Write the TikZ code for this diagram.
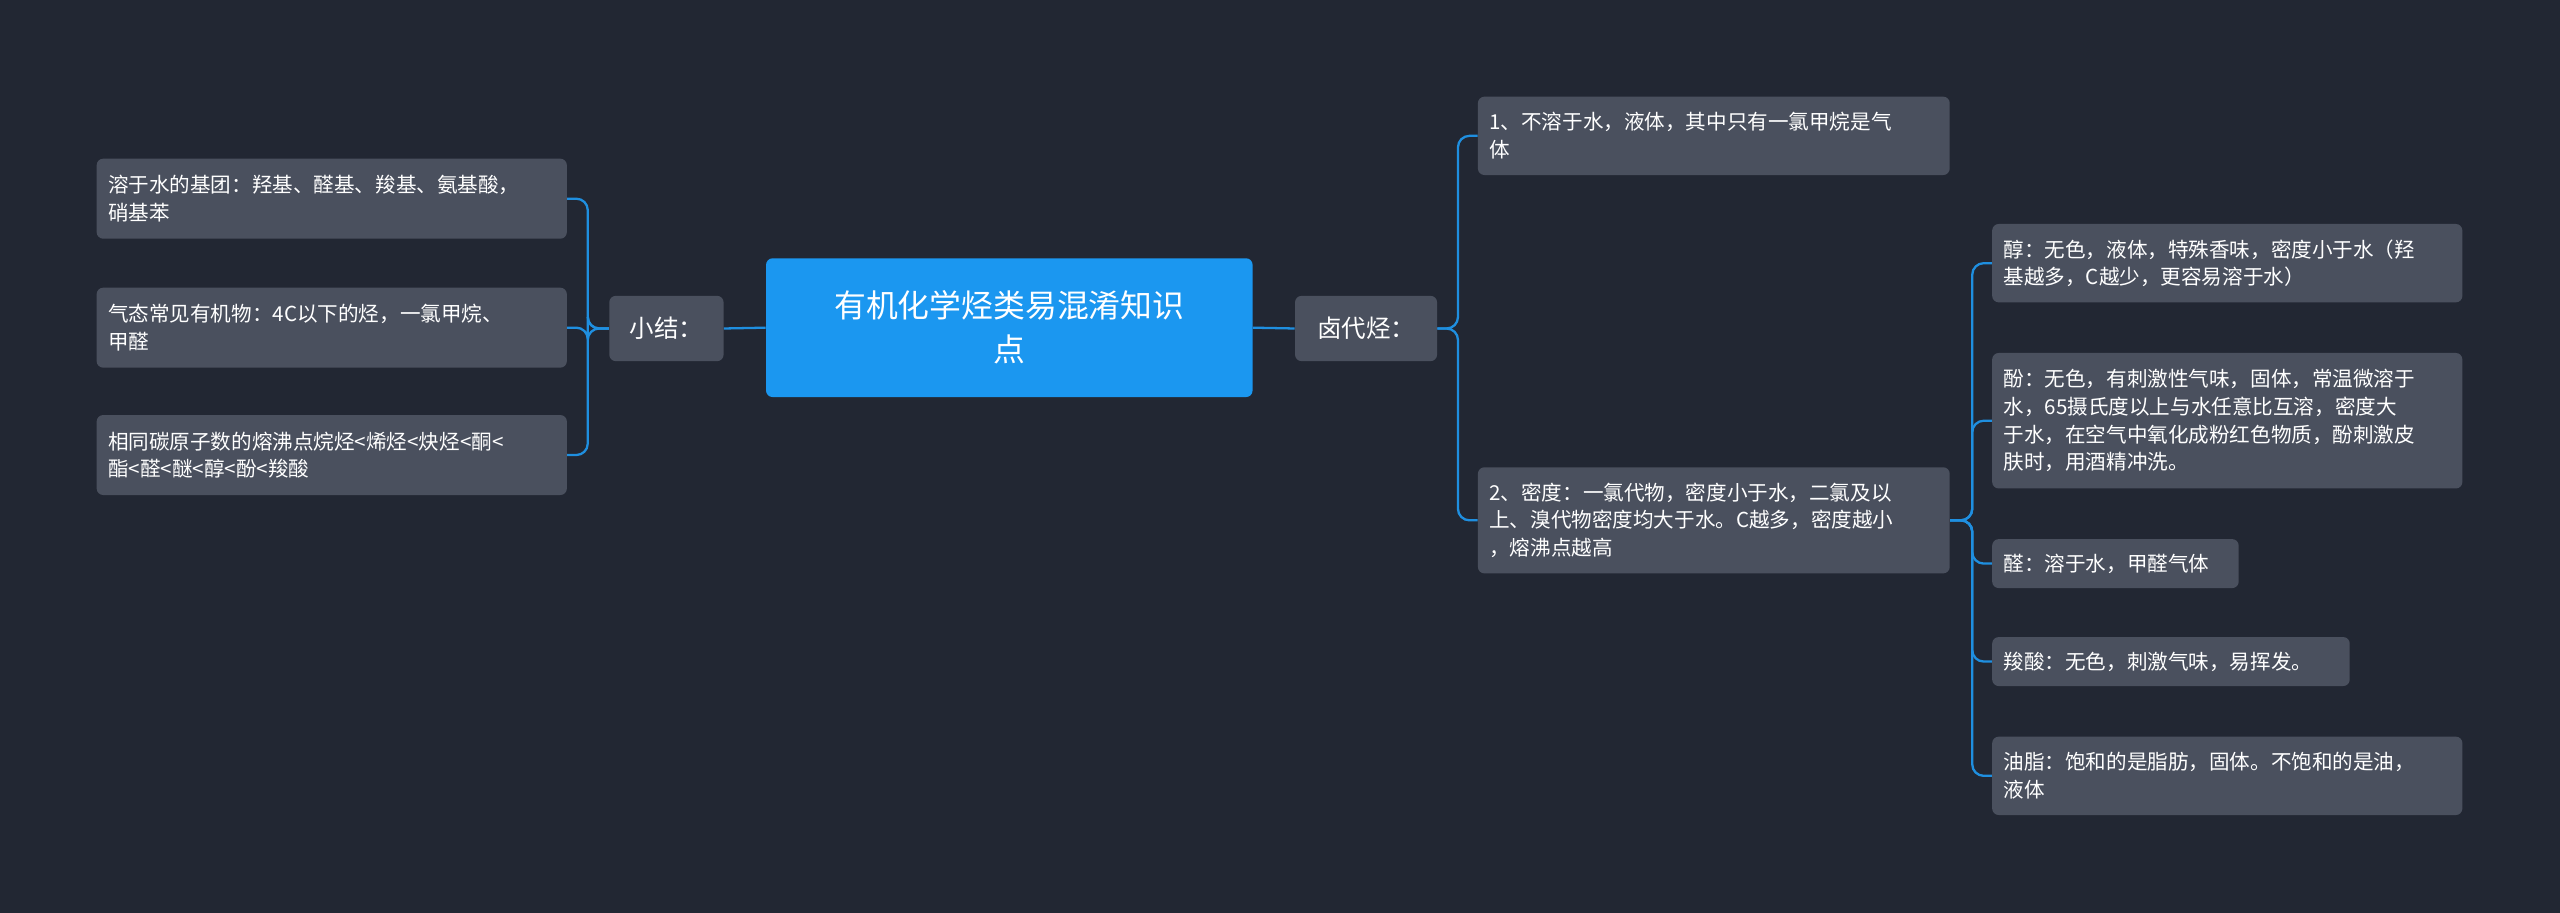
\documentclass[tikz,border=0pt]{standalone}
\usepackage{fontspec}
\setmainfont{Noto Sans CJK SC}
\definecolor{bg}{HTML}{222733}
\definecolor{nd}{HTML}{4A505E}
\definecolor{rt}{HTML}{1B97F0}
\definecolor{ln}{HTML}{1F8FE0}
\begin{document}
\begin{tikzpicture}[x=1pt,y=-1pt,
  leaf/.style={anchor=north west,fill=nd,rounded corners=4pt,text=white,inner xsep=7pt,inner ysep=0pt,align=left,font=\fontsize{12.6}{17}\selectfont},
  mid/.style={anchor=north west,fill=nd,rounded corners=4pt,text=white,inner sep=0pt,align=center,font=\fontsize{15}{20}\selectfont},
  con/.style={draw=ln,line width=1.4pt,rounded corners=7pt}]
\fill[bg] (0,0) rectangle (1568,559);
\useasboundingbox (0,0) rectangle (1568,559);
\node[anchor=north west,fill=rt,rounded corners=4pt,text=white,inner sep=0pt,minimum width=298pt,minimum height=85pt,align=center,font=\fontsize{19.5}{27}\selectfont] (root) at (469,158) {有机化学烃类易混淆知识\\点};
\node[mid,minimum width=70pt,minimum height=40pt] (xj) at (373,181) {小结：};
\node[mid,minimum width=87pt,minimum height=40pt] (ld) at (793,181) {卤代烃：};
\node[leaf,text width=274pt,minimum height=49pt] (l1) at (59,97) {溶于水的基团：羟基、醛基、羧基、氨基酸，\\硝基苯};
\node[leaf,text width=274pt,minimum height=49pt] (l2) at (59,176) {气态常见有机物：4C以下的烃，一氯甲烷、\\甲醛};
\node[leaf,text width=274pt,minimum height=49pt] (l3) at (59,254) {相同碳原子数的熔沸点烷烃<烯烃<炔烃<酮<\\酯<醛<醚<醇<酚<羧酸};
\node[leaf,text width=275pt,minimum height=48pt] (r1) at (905,59) {1、不溶于水，液体，其中只有一氯甲烷是气\\体};
\node[leaf,text width=275pt,minimum height=65pt] (r2) at (905,286) {2、密度：一氯代物，密度小于水，二氯及以\\上、溴代物密度均大于水。C越多，密度越小\\，熔沸点越高};
\node[leaf,text width=274pt,minimum height=48pt] (s1) at (1220,137) {醇：无色，液体，特殊香味，密度小于水（羟\\基越多，C越少，更容易溶于水）};
\node[leaf,text width=274pt,minimum height=83pt] (s2) at (1220,216) {酚：无色，有刺激性气味，固体，常温微溶于\\水，65摄氏度以上与水任意比互溶，密度大\\于水，在空气中氧化成粉红色物质，酚刺激皮\\肤时，用酒精冲洗。};
\node[leaf,text width=137pt,minimum height=30pt] (s3) at (1220,330) {醛：溶于水，甲醛气体};
\node[leaf,text width=205pt,minimum height=30pt] (s4) at (1220,390) {羧酸：无色，刺激气味，易挥发。};
\node[leaf,text width=274pt,minimum height=48pt] (s5) at (1220,451) {油脂：饱和的是脂肪，固体。不饱和的是油，\\液体};
\draw[con] (root.west) -- (xj.east);
\draw[con] (root.east) -- (ld.east-|ld.west);
\foreach \c in {l1,l2,l3} \draw[con] (xj.west) -- (360,0|-xj.west) -- (360,0|-\c.east) -- (\c.east);
\foreach \c in {r1,r2} \draw[con] (ld.east) -- (893,0|-ld.east) -- (893,0|-\c.west) -- (\c.west);
\foreach \c in {s1,s2,s3,s4,s5} \draw[con] (r2.east) -- (1208,0|-r2.east) -- (1208,0|-\c.west) -- (\c.west);
\end{tikzpicture}
\end{document}
